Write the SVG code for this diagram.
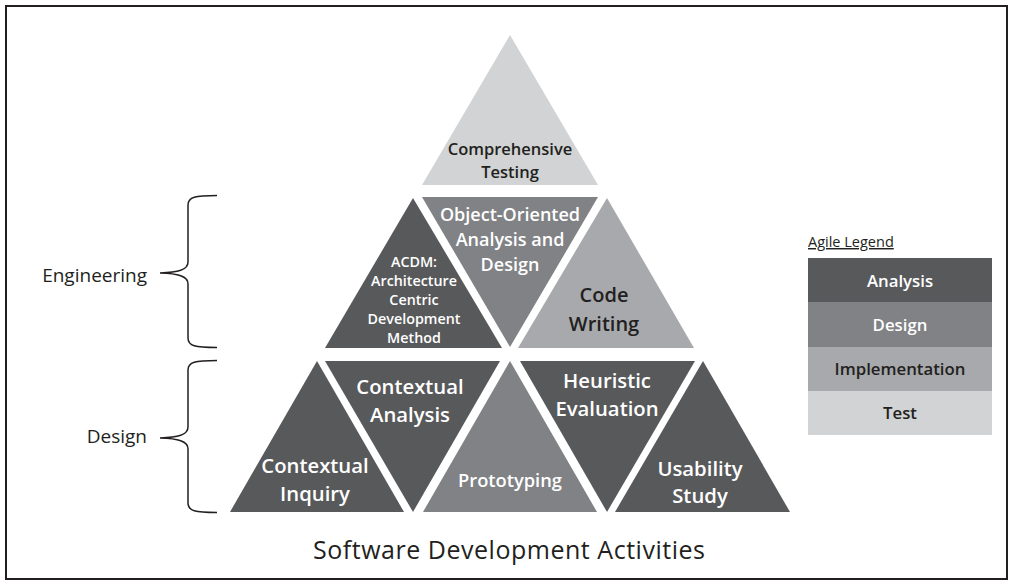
<svg xmlns="http://www.w3.org/2000/svg" width="1013" height="585" viewBox="0 0 1013 585">
<style>
.an{fill:#58595b}.de{fill:#808285}.im{fill:#a7a9ac}.te{fill:#d1d3d4}
text{font-family:"Open Sans","Noto Sans","Liberation Sans",sans-serif;text-anchor:middle}
.w{fill:#ffffff;font-weight:600}
.k{fill:#231f20;font-weight:600}
.lbl{fill:#231f20;font-size:19px;text-anchor:end}
.brace{fill:none;stroke:#231f20;stroke-width:1.5}
</style>
<rect x="6" y="6" width="1001" height="573" fill="#ffffff" stroke="#231f20" stroke-width="2"/>

<g id="comprehensive-testing">
<polygon class="te" points="510,35 598,185 422,185"/>
<text class="k" font-size="16.5" x="510" y="155">Comprehensive</text>
<text class="k" font-size="16.5" x="510" y="178">Testing</text>
</g>

<g id="acdm">
<polygon class="an" points="413,198 502,348 325,348"/>
<text class="w" font-size="14.3" x="414" y="267">ACDM:</text>
<text class="w" font-size="14.3" x="414" y="286">Architecture</text>
<text class="w" font-size="14.3" x="414" y="305">Centric</text>
<text class="w" font-size="14.3" x="414" y="324">Development</text>
<text class="w" font-size="14.3" x="414" y="343">Method</text>
</g>

<g id="ooad">
<polygon class="de" points="422,197 598,197 510,347"/>
<text class="w" font-size="18" x="510" y="221">Object-Oriented</text>
<text class="w" font-size="18" x="510" y="246">Analysis and</text>
<text class="w" font-size="18" x="510" y="271">Design</text>
</g>

<g id="code-writing">
<polygon class="im" points="607,198 694,348 518,348"/>
<text class="k" font-size="20" x="604" y="302">Code</text>
<text class="k" font-size="20" x="604" y="331">Writing</text>
</g>

<g id="contextual-inquiry">
<polygon class="an" points="317,361 404,512 230,512"/>
<text class="w" font-size="20.3" x="315" y="473">Contextual</text>
<text class="w" font-size="20.3" x="315" y="501">Inquiry</text>
</g>

<g id="contextual-analysis">
<polygon class="an" points="325,361 500,361 413,512"/>
<text class="w" font-size="20.3" x="410" y="394">Contextual</text>
<text class="w" font-size="20.3" x="410" y="422">Analysis</text>
</g>

<g id="prototyping">
<polygon class="de" points="510,361 597,512 423,512"/>
<text class="w" font-size="18.3" x="510" y="487">Prototyping</text>
</g>

<g id="heuristic-evaluation">
<polygon class="an" points="520,361 695,361 607,512"/>
<text class="w" font-size="20.3" x="607" y="388">Heuristic</text>
<text class="w" font-size="20.3" x="607" y="416">Evaluation</text>
</g>

<g id="usability-study">
<polygon class="an" points="703,361 790,512 615,512"/>
<text class="w" font-size="20.3" x="700" y="476">Usability</text>
<text class="w" font-size="20.3" x="700" y="503">Study</text>
</g>

<g id="braces">
<path class="brace" d="M217,195.5 C195,195.5 188,197 188,205 L188,262 C188,270 178,272.5 160,273 C178,273.5 188,276 188,284 L188,338 C188,346 195,347.5 217,347.5"/>
<path class="brace" d="M217,360.5 C195,360.5 188,362 188,370 L188,427 C188,435 178,437.5 160,438 C178,438.5 188,441 188,449 L188,503 C188,511 195,512.5 217,512.5"/>
</g>
<g id="engineering-label"><text class="lbl" x="147" y="282">Engineering</text></g>
<g id="design-label"><text class="lbl" x="147" y="443">Design</text></g>

<g id="legend">
<text x="808" y="247" font-size="14.5" fill="#231f20" style="text-anchor:start" text-decoration="underline">Agile Legend</text>
<rect class="an" x="808" y="258" width="184" height="44"/>
<rect class="de" x="808" y="302" width="184" height="45"/>
<rect class="im" x="808" y="347" width="184" height="44"/>
<rect class="te" x="808" y="391" width="184" height="44"/>
<text class="w" font-size="16.8" x="900" y="287">Analysis</text>
<text class="w" font-size="16.8" x="900" y="331">Design</text>
<text class="k" font-size="16.8" x="900" y="375">Implementation</text>
<text class="k" font-size="16.8" x="900" y="419">Test</text>
</g>

<g id="title"><text x="509" y="559" font-size="25" textLength="392" lengthAdjust="spacing" fill="#231f20">Software Development Activities</text></g>
</svg>
